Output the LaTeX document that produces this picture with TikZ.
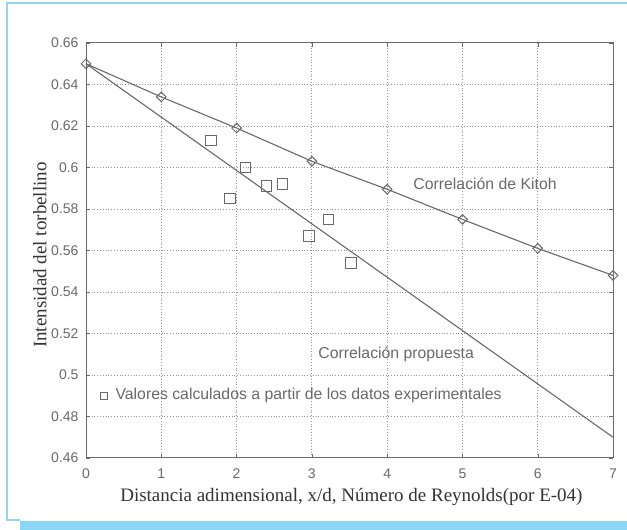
\documentclass[tikz,border=0pt]{standalone}
\usepackage{fontspec}
\setmainfont{Liberation Serif}
\setsansfont{Liberation Sans}
\usetikzlibrary{shapes.geometric, positioning}
\definecolor{framecol}{RGB}{150,212,240}
\definecolor{bandcol}{RGB}{140,215,245}
\definecolor{inkgray}{RGB}{105,105,105}

\begin{document}
\begin{tikzpicture}[
  x=1pt, y=1pt,
  ticklab/.style={font=\sffamily\fontsize{14}{14}\selectfont, text=inkgray},
  note/.style={font=\sffamily\fontsize{15.8}{15.8}\selectfont, text=inkgray},
  axlab/.style={font=\fontsize{19}{19}\selectfont, text=black!80},
  kmark/.style={diamond, draw=inkgray, line width=1pt, inner sep=0pt, minimum size=10pt},
  smark/.style={rectangle, draw=inkgray, line width=0.9pt, inner sep=0pt, minimum size=10.5pt},
  gridline/.style={gray!85, dotted, line width=0.8pt},
  dataline/.style={inkgray, line width=1.1pt}
]
\useasboundingbox (0,0) rectangle (627,-530);

% Frame
\draw[framecol, line width=1.5pt] (627,-3) -- (7,-3) -- (7,-520) -- (20,-520);
\fill[bandcol] (20,-521) rectangle (627,-530);

\begin{scope}[shift={(86pt,-1412.5pt)}, x=75.29pt, y=2075pt]
% Grid
\foreach \gx in {1,...,6}
  \draw[gridline] (\gx,0.46) -- (\gx,0.66);
\foreach \gy in {0.48,0.5,0.52,0.54,0.56,0.58,0.6,0.62,0.64}
  \draw[gridline] (0,\gy) -- (7,\gy);

% Axes box and ticks
\draw[inkgray, line width=1pt] (0,0.46) rectangle (7,0.66);
\foreach \gx in {0,...,7} {
  \draw[inkgray] (\gx,0.46) -- ++(0,4pt);
  \draw[inkgray] (\gx,0.66) -- ++(0,-4pt);
  \node[ticklab, anchor=north] (xt\gx) at ([yshift=-7pt]\gx,0.46) {\gx};
}
\foreach \gy/\lab in {0.46/0.46, 0.48/0.48, 0.5/0.5, 0.52/0.52, 0.54/0.54,
                      0.56/0.56, 0.58/0.58, 0.6/0.6, 0.62/0.62, 0.64/0.64, 0.66/0.66} {
  \draw[inkgray] (0,\gy) -- ++(4pt,0);
  \draw[inkgray] (7,\gy) -- ++(-4pt,0);
  \node[ticklab, anchor=east] at ([xshift=-4pt]0,\gy) {\lab};
}

% Kitoh correlation
\foreach \i/\v in {0/0.65, 1/0.634, 2/0.619, 3/0.603, 4/0.5895, 5/0.575, 6/0.561, 7/0.548}
  \node[kmark] (k\i) at (\i,\v) {};
\foreach \i [count=\j] in {0,...,6}
  \draw[dataline] (k\i.center) -- (k\j.center);

% Proposed correlation
\coordinate (p7) at (7,0.47);
\draw[dataline] (k0.center) -- (p7);

% Experimental values
\foreach \sx/\sy [count=\n] in {1.66/0.613, 1.91/0.585, 2.12/0.600, 2.40/0.591,
                                2.61/0.592, 2.96/0.567, 3.22/0.575, 3.52/0.554}
  \node[smark] (s\n) at (\sx,\sy) {};

% Labels
\node[note] (kitoh) at (5.3,0.592) {Correlación de Kitoh};
\node[note] (prop) at (4.12,0.51) {Correlación propuesta};
\node[smark, minimum size=7pt] (legsq) at (0.24,0.49) {};
\node[note, right=4pt of legsq] (legtxt) {Valores calculados a partir de los datos experimentales};

\node[axlab] (xlab) at (3.525,0.4412) {Distancia adimensional, x/d, Número de Reynolds(por E-04)};
\node[axlab, rotate=90] (ylab) at (-0.611,0.5578) {Intensidad del torbellino};
\end{scope}
\end{tikzpicture}
\end{document}
